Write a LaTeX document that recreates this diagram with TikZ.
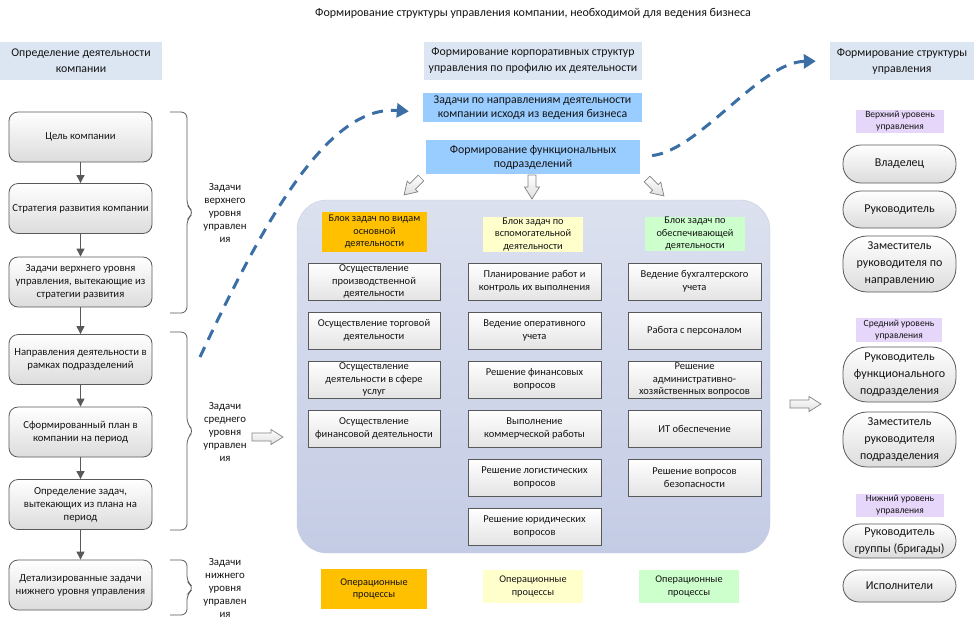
\documentclass[tikz,border=0pt]{standalone}
\usepackage{fontspec}
\setmainfont{Carlito}
\usetikzlibrary{arrows.meta}
\definecolor{hdrfill}{RGB}{220,230,242}
\definecolor{bluefill}{RGB}{153,204,255}
\definecolor{orng}{RGB}{255,192,0}
\definecolor{ylw}{RGB}{255,255,204}
\definecolor{grn}{RGB}{204,255,204}
\definecolor{lav}{RGB}{230,214,250}
\definecolor{edge}{RGB}{89,89,89}
\definecolor{boxgray}{RGB}{220,220,220}
\definecolor{boxgray2}{RGB}{228,228,228}
\definecolor{dashblue}{RGB}{58,110,165}
\definecolor{panelTop}{RGB}{220,225,239}
\definecolor{panelBot}{RGB}{196,204,229}
\definecolor{panelEdge}{RGB}{200,205,220}
\definecolor{txt}{RGB}{20,20,20}
\definecolor{arrowedge}{RGB}{130,130,130}
\begin{document}
\begin{tikzpicture}[x=1pt,y=-1pt,
 base/.style={align=center, inner sep=0pt, text=txt},
 hdr/.style={base, fill=hdrfill, font=\fontsize{11.8}{16}\selectfont, minimum height=38pt},
 blu/.style={base, fill=bluefill, font=\fontsize{11.8}{14}\selectfont},
 lbox/.style={base, draw=edge, line width=0.8pt, rounded corners=9pt, top color=white, bottom color=boxgray, minimum width=143pt, minimum height=50pt, font=\fontsize{10.7}{13}\selectfont},
 tbox/.style={base, draw=edge, line width=0.8pt, top color=white, bottom color=boxgray2, minimum width=133pt, minimum height=37pt, font=\fontsize{10.5}{12.5}\selectfont},
 bhead/.style={base, font=\fontsize{10.3}{12.5}\selectfont},
 stad/.style={base, draw=edge, line width=0.8pt, rounded corners=18pt, top color=white, bottom color=boxgray, minimum width=113pt, font=\fontsize{12}{17}\selectfont},
 lvl/.style={base, fill=lav, minimum width=88pt, minimum height=23pt, font=\fontsize{9.5}{12}\selectfont},
 bracetxt/.style={base, font=\fontsize{10.8}{13}\selectfont},
 flow/.style={draw=edge, line width=0.9pt, -{Triangle[length=8pt,width=8pt]}},
 bigdash/.style={draw=dashblue, line width=3pt, dash pattern=on 11pt off 8pt, -{Triangle[length=12pt,width=14pt]}},
 bracestyle/.style={draw=edge, line width=0.8pt, rounded corners=6pt},
 pics/harrow/.style={code={\draw[draw=arrowedge, line width=0.7pt, top color=white, bottom color=gray!25] (0,-4) -- (19,-4) -- (19,-7.5) -- (31,0) -- (19,7.5) -- (19,4) -- (0,4) -- cycle;}},
 pics/sarrow/.style={code={\draw[draw=arrowedge, line width=0.7pt, top color=white, bottom color=gray!25] (0,-4) -- (12,-4) -- (12,-7.5) -- (24,0) -- (12,7.5) -- (12,4) -- (0,4) -- cycle;}}
]
\useasboundingbox (0,0) rectangle (976,625);

% title
\node[base, font=\fontsize{12}{14}\selectfont] (title) at (533,13) {Формирование структуры управления компании, необходимой для ведения бизнеса};

% headers
\node[hdr, minimum width=162pt] (hL) at (81,61) {Определение деятельности\\компании};
\node[hdr, minimum width=218pt] (hM) at (533,61) {Формирование корпоративных структур\\управления по профилю их деятельности};
\node[hdr, minimum width=144pt] (hR) at (902,61) {Формирование структуры\\управления};

% blue boxes
\node[blu, minimum width=219pt, minimum height=29pt] (tk) at (532.5,107.5) {Задачи по направлениям деятельности\\компании исходя из ведения бизнеса};
\node[blu, minimum width=214pt, minimum height=34pt] (ff) at (533,157) {Формирование функциональных\\подразделений};

% left column
\node[lbox] (l1) at (80.5,137) {Цель компании};
\node[lbox] (l2) at (80.5,208.5) {Стратегия развития компании};
\node[lbox] (l3) at (80.5,282) {Задачи верхнего уровня\\управления, вытекающие из\\стратегии развития};
\node[lbox] (l4) at (80.5,359.5) {Направления деятельности в\\рамках подразделений};
\node[lbox] (l5) at (80.5,432) {Сформированный план в\\компании на период};
\node[lbox] (l6) at (80.5,504.5) {Определение задач,\\вытекающих из плана на\\период};
\node[lbox] (l7) at (80.5,585) {Детализированные задачи\\нижнего уровня управления};
\draw[flow] (l1) -- (l2);
\draw[flow] (l2) -- (l3);
\draw[flow] (l3) -- (l4);
\draw[flow] (l4) -- (l5);
\draw[flow] (l5) -- (l6);
\draw[flow] (l6) -- (l7);

% braces
\draw[bracestyle] (170,112) -- (187,112) -- (187,206) -- (194,212.5) -- (187,219) -- (187,313) -- (170,313);
\draw[bracestyle] (170,332) -- (187,332) -- (187,424) -- (194,431) -- (187,438) -- (187,530) -- (170,530);
\draw[bracestyle] (170,560) -- (187,560) -- (187,582) -- (194,588) -- (187,594) -- (187,615) -- (170,615);
\node[bracetxt] (bt1) at (225,213) {Задачи\\верхнего\\уровня\\управлен\\ия};
\node[bracetxt] (bt2) at (225,432) {Задачи\\среднего\\уровня\\управлен\\ия};
\node[bracetxt] (bt3) at (225,588) {Задачи\\нижнего\\уровня\\управлен\\ия};

% panel
\path[rounded corners=30pt, draw=panelEdge, top color=panelTop, bottom color=panelBot] (297,200) rectangle (770,553);

% hollow arrows
\pic at (252,437) {harrow};
\pic at (790,404) {harrow};
\pic[rotate=-90] at (532,175) {sarrow};
\pic[rotate=-135] at (421,178) {sarrow};
\pic[rotate=-45] at (647,179) {sarrow};

% block headers
\node[bhead, fill=orng, minimum width=105pt, minimum height=40pt] (bh1) at (374.5,232) {Блок задач по видам\\основной\\деятельности};
\node[bhead, fill=ylw, minimum width=100pt, minimum height=35pt] (bh2) at (533,234.5) {Блок задач по\\вспомогательной\\деятельности};
\node[bhead, fill=grn, minimum width=100pt, minimum height=34pt] (bh3) at (695,234) {Блок задач по\\обеспечивающей\\деятельности};

% column 1
\node[tbox, minimum width=132pt] (a1) at (374,281.5) {Осуществление\\производственной\\деятельности};
\node[tbox, minimum width=132pt] (a2) at (374,330.5) {Осуществление торговой\\деятельности};
\node[tbox, minimum width=132pt] (a3) at (374,379.5) {Осуществление\\деятельности в сфере\\услуг};
\node[tbox, minimum width=132pt] (a4) at (374,428.5) {Осуществление\\финансовой деятельности};
% column 2
\node[tbox] (b1) at (534.5,281.5) {Планирование работ и\\контроль их выполнения};
\node[tbox] (b2) at (534.5,330.5) {Ведение оперативного\\учета};
\node[tbox] (b3) at (534.5,379.5) {Решение финансовых\\вопросов};
\node[tbox] (b4) at (534.5,428.5) {Выполнение\\коммерческой работы};
\node[tbox] (b5) at (534.5,477.5) {Решение логистических\\вопросов};
\node[tbox] (b6) at (534.5,526.5) {Решение юридических\\вопросов};
% column 3
\node[tbox] (c1) at (694.5,281.5) {Ведение бухгалтерского\\учета};
\node[tbox] (c2) at (694.5,330.5) {Работа с персоналом};
\node[tbox] (c3) at (694.5,379.5) {Решение\\административно-\\хозяйственных вопросов};
\node[tbox] (c4) at (694.5,428.5) {ИТ обеспечение};
\node[tbox] (c5) at (694.5,477.5) {Решение вопросов\\безопасности};

% operational processes
\node[bhead, fill=orng, minimum width=106pt, minimum height=40pt] (op1) at (374,589) {Операционные\\процессы};
\node[bhead, fill=ylw, minimum width=100pt, minimum height=33pt] (op2) at (533,586.5) {Операционные\\процессы};
\node[bhead, fill=grn, minimum width=100pt, minimum height=33pt] (op3) at (689,586.5) {Операционные\\процессы};

% right column
\node[lvl] (v1) at (900,121.5) {Верхний уровень\\управления};
\node[stad, minimum height=38pt] (r1) at (899.5,164) {Владелец};
\node[stad, minimum height=37pt] (r2) at (899.5,209.5) {Руководитель};
\node[stad, minimum height=56pt, rounded corners=24pt] (r3) at (899.5,264) {Заместитель\\руководителя по\\направлению};
\node[lvl, minimum width=86pt, minimum height=24pt] (v2) at (899,330) {Средний уровень\\управления};
\node[stad, minimum height=55pt, rounded corners=24pt] (r4) at (899.5,374.5) {Руководитель\\функционального\\подразделения};
\node[stad, minimum height=55pt, rounded corners=24pt] (r5) at (899.5,439.5) {Заместитель\\руководителя\\подразделения};
\node[lvl] (v3) at (900,505.5) {Нижний уровень\\управления};
\node[stad, minimum height=34pt, rounded corners=17pt] (r6) at (899.5,541) {Руководитель\\группы (бригады)};
\node[stad, minimum height=32pt, rounded corners=16pt] (r7) at (899.5,586) {Исполнители};

% dashed curved arrows
\coordinate (d1s) at (200,357);
\draw[bigdash, shorten >=14pt] (d1s) .. controls (268,212) and (330,105) .. ([yshift=-5pt]tk.west);
\draw[bigdash, shorten <=12pt, shorten >=14pt] (ff.east) .. controls (700,150) and (760,62) .. (hR.west);
\end{tikzpicture}
\end{document}
